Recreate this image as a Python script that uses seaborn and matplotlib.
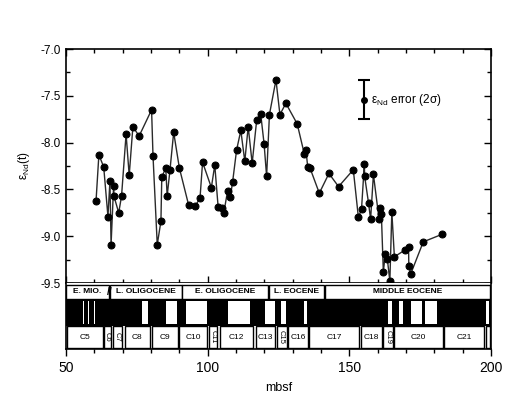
import matplotlib
matplotlib.use('Agg')
import matplotlib.pyplot as plt
from matplotlib.patches import Rectangle
from matplotlib.ticker import MultipleLocator
import numpy as np
import pandas as pd
import seaborn as sns

sns.set_style('ticks')
plt.rcParams['font.family'] = ['Liberation Sans', 'DejaVu Sans']
plt.rcParams['xtick.color'] = 'black'
plt.rcParams['ytick.color'] = 'black'
plt.rcParams['text.color'] = 'black'
plt.rcParams['axes.labelcolor'] = 'black'

# eNd(t) record, depth in mbsf
depth = [60.6, 61.6, 63.3, 64.8, 65.5, 65.9, 66.8, 66.9, 68.6, 69.6,
         71.2, 72.3, 73.6, 75.8, 80.2, 80.7, 82.2, 83.5, 83.8, 85.2,
         85.7, 86.7, 88.0, 90.0, 93.3, 95.6, 97.3, 98.2, 101.3, 102.5,
         103.7, 104.9, 105.7, 107.0, 108.0, 108.8, 110.2, 111.7, 113.1, 114.3,
         115.7, 117.3, 118.7, 119.9, 120.8, 121.8, 124.1, 125.5, 127.6, 131.6,
         134.1, 134.7, 135.3, 136.1, 139.4, 142.8, 146.2, 151.4, 153.2, 154.3,
         155.3, 155.4, 156.8, 157.5, 158.5, 160.5, 160.7, 161.3, 162.0, 162.7,
         163.4, 164.3, 165.0, 165.9, 169.5, 170.9, 171.0, 171.7, 176.1, 182.7]
eps_nd = [-8.62, -8.13, -8.26, -8.79, -8.41, -9.09, -8.46, -8.57, -8.75, -8.57,
          -7.91, -8.35, -7.83, -7.93, -7.65, -8.14, -9.09, -8.84, -8.37, -8.27,
          -8.57, -8.29, -7.89, -8.27, -8.67, -8.68, -8.59, -8.21, -8.48, -8.24,
          -8.69, -8.70, -8.75, -8.52, -8.58, -8.42, -8.08, -7.87, -8.20, -7.83,
          -8.22, -7.76, -7.69, -8.01, -8.36, -7.70, -7.33, -7.70, -7.58, -7.80,
          -8.12, -8.08, -8.26, -8.27, -8.54, -8.33, -8.47, -8.29, -8.80, -8.71,
          -8.23, -8.36, -8.65, -8.82, -8.34, -8.82, -8.70, -8.76, -9.38, -9.19,
          -9.24, -9.48, -8.74, -9.22, -9.15, -9.12, -9.32, -9.40, -9.06, -8.98]

# error bar key
err_x = 155.0
err_y = -7.54
err_2s = 0.21

# epochs (start, end, label)
epoch_start = [50.0, 65.6, 91.1, 121.6, 141.4]
epoch_end = [65.2, 90.8, 121.2, 141.1, 199.8]
epoch_label = ['E. MIO.', 'L. OLIGOCENE', 'E. OLIGOCENE', 'L. EOCENE', 'MIDDLE EOCENE']

# magnetic chrons
chron_start = [50.2, 63.5, 66.5, 70.8, 80.4, 90.0, 100.5, 104.3, 116.9, 124.3,
               128.4, 135.9, 154.0, 162.0, 165.8, 183.5, 198.4]
chron_end = [63.2, 65.8, 69.7, 79.6, 89.4, 99.6, 103.2, 116.1, 123.7, 127.9,
             135.5, 153.4, 161.4, 165.5, 182.9, 197.5, 199.6]
chron_label = ['C5', 'C6', 'C7', 'C8', 'C9', 'C10', 'C11', 'C12', 'C13', 'C15',
               'C16', 'C17', 'C18', 'C19', 'C20', 'C21', '']
chron_vertical = ['C6', 'C7', 'C11', 'C15', 'C19']

# white gaps in the black polarity column
gap_start = [55.9, 57.8, 60.0, 76.7, 85.3, 92.4, 107.1, 120.1, 125.8, 134.1,
             163.7, 167.4, 171.6, 176.8, 198.4]
gap_end = [56.3, 58.2, 60.4, 79.1, 89.3, 99.8, 115.0, 123.6, 127.6, 134.9,
           164.9, 169.1, 175.5, 181.0, 199.3]

df = pd.DataFrame({'mbsf': depth, 'eNd': eps_nd})

fig = plt.figure(figsize=(5.17, 3.94), dpi=100)
ax = fig.add_axes([0.1277, 0.2817, 0.822, 0.5939])
ax2 = fig.add_axes([0.1277, 0.1142, 0.822, 0.1675])

sns.lineplot(data=df, x='mbsf', y='eNd', sort=False, estimator=None, ax=ax,
             color='#2a2a2a', lw=1.0, marker='o', markersize=5,
             markerfacecolor='black', markeredgecolor='black')
ax.errorbar([err_x], [err_y], yerr=[err_2s], fmt='o', color='black',
            ms=4, capsize=4, elinewidth=1.5, capthick=1.5)
ax.text(err_x + 2.8, err_y, 'ε$_{\\mathregular{Nd}}$ error (2σ)', fontsize=8.5,
        va='center', ha='left')

ax.set_xlim(50, 200)
ax.set_ylim(-9.5, -7.0)
ax.yaxis.set_major_locator(MultipleLocator(0.5))
ax.yaxis.set_minor_locator(MultipleLocator(0.25))
ax.xaxis.set_major_locator(MultipleLocator(50))
ax.xaxis.set_minor_locator(MultipleLocator(10))
ax.yaxis.set_major_formatter(plt.FormatStrFormatter('%.1f'))
ax.tick_params(which='both', direction='in', top=True, right=True,
               labelbottom=False, labelsize=8.5, width=1)
ax.tick_params(which='major', length=5)
ax.tick_params(which='minor', length=3)
ax.set_xlabel('')
ax.set_ylabel('ε$_{\\mathregular{Nd}}$(t)', fontsize=8.5, labelpad=6)
for s in ax.spines.values():
    s.set_linewidth(1.2)
    s.set_color('black')

# stratigraphic column
ax2.set_xlim(50, 200)
ax2.set_ylim(0, 66)
ax2.set_yticks([])
ax2.spines['top'].set_visible(False)
for s in ['left', 'right', 'bottom']:
    ax2.spines[s].set_linewidth(1.2)
    ax2.spines[s].set_color('black')

for x0, x1, lab in zip(epoch_start, epoch_end, epoch_label):
    ax2.add_patch(Rectangle((x0, 50.5), x1 - x0, 14, facecolor='white',
                            edgecolor='black', lw=1.0))
    ax2.text((x0 + x1) / 2, 57.5, lab, fontsize=6, fontweight='bold',
             ha='center', va='center')
ax2.text(65.4, 57.5, '//', fontsize=7.5, fontweight='bold', ha='center', va='center')

ax2.add_patch(Rectangle((50, 23.3), 150, 27, facecolor='black', edgecolor='none'))
for x0, x1 in zip(gap_start, gap_end):
    ax2.add_patch(Rectangle((x0, 25.5), x1 - x0, 22.8, facecolor='white',
                            edgecolor='none'))

for x0, x1, lab in zip(chron_start, chron_end, chron_label):
    ax2.add_patch(Rectangle((x0, 0.8), x1 - x0, 22.5, facecolor='white',
                            edgecolor='black', lw=1.0))
    if lab in chron_vertical:
        ax2.text((x0 + x1) / 2, 12, lab, fontsize=5.5, rotation=270,
                 ha='center', va='center')
    elif lab:
        ax2.text((x0 + x1) / 2, 12, lab, fontsize=6, ha='center', va='center')

ax2.xaxis.set_major_locator(MultipleLocator(50))
ax2.xaxis.set_minor_locator(MultipleLocator(10))
ax2.tick_params(which='both', direction='out', labelsize=10, width=1)
ax2.tick_params(which='major', length=5)
ax2.tick_params(which='minor', length=3)
ax2.set_xlabel('mbsf', fontsize=9, labelpad=5)

fig.savefig('out.png', dpi=100)
